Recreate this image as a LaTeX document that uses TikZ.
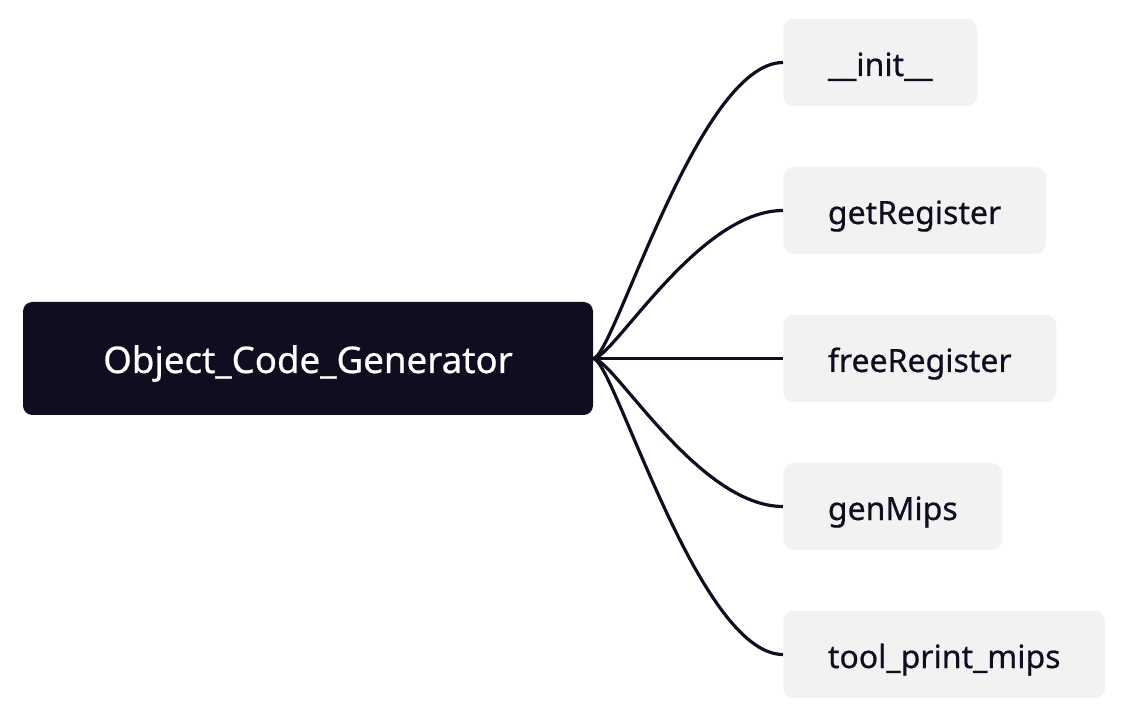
\documentclass[tikz,border=0pt]{standalone}
\usepackage{fontspec}
\setmainfont{Noto Sans}[FakeBold=0.6]
\usetikzlibrary{positioning}
\definecolor{mynavy}{HTML}{0F0E20}
\definecolor{mygrey}{HTML}{F2F2F2}

\begin{document}
\begin{tikzpicture}
[x=0.75pt, y=-0.75pt,
 root/.style={rectangle, rounded corners=7pt, fill=mynavy, text=white, inner sep=0pt,
   minimum width=427.5pt, minimum height=84.75pt, text height=21.75pt, text depth=0pt,
   font=\fontsize{27.5}{32}\selectfont},
 leaf/.style={rectangle, rounded corners=8pt, fill=mygrey, text=mynavy, anchor=west,
   inner xsep=33.5pt, inner ysep=0pt, minimum height=65.25pt, text height=20.25pt,
   text depth=0pt, font=\fontsize{24}{28}\selectfont},
 link/.style={draw=mynavy, line width=2.4pt}]

\useasboundingbox (0,0) rectangle (1122,720);

% central node
\node[root] (OCG) at (308,358.5) {Object\_Code\_Generator};

% method nodes
\node[leaf] (init) at (783,62.5) {\_\_init\_\_};
\node[leaf] (getReg) at (783,210.5) {getRegister};
\node[leaf] (freeReg) at (783,358.5) {freeRegister};
\node[leaf] (genMips) at (783,506.5) {genMips};
\node[leaf] (toolPrint) at (783,654.5) {tool\_print\_mips};

% links
\foreach \m in {init, getReg, freeReg, genMips, toolPrint}
  \draw[link] (OCG.east) .. controls +(20,0) and +(-85,0) .. (\m.west);

\end{tikzpicture}
\end{document}
